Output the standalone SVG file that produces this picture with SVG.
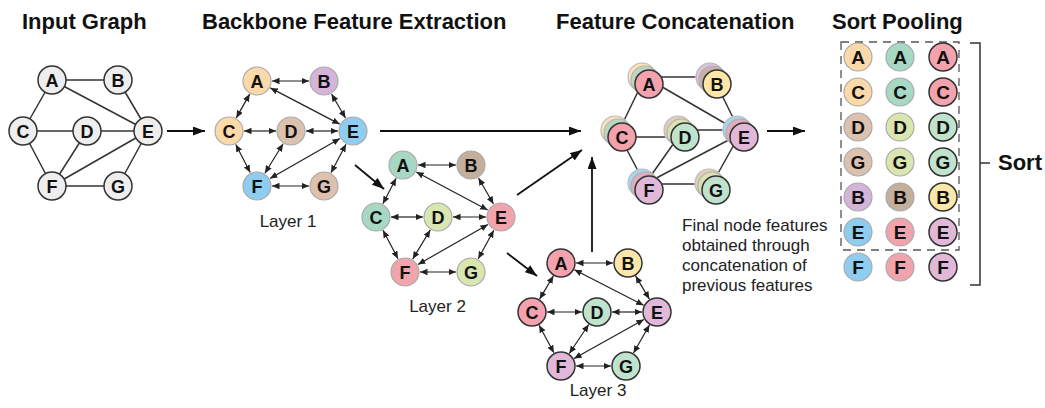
<svg xmlns="http://www.w3.org/2000/svg" width="1045" height="408" viewBox="0 0 1045 408">
<style>
.title{font-family:"Liberation Sans",Arial,sans-serif;font-weight:bold;font-size:22px;fill:#111}
.lbl{font-family:"Liberation Sans",Arial,sans-serif;font-size:17px;fill:#222}
.nl{font-family:"Liberation Sans",Arial,sans-serif;font-weight:bold;font-size:18px;fill:#111;text-anchor:middle}
.nls{font-family:"Liberation Sans",Arial,sans-serif;font-weight:bold;font-size:19px;fill:#111;text-anchor:middle}
.e0{stroke:#333;stroke-width:1.5;fill:none}
.e1{stroke:#222;stroke-width:1.2;fill:none;marker-start:url(#sa);marker-end:url(#sa)}
.big{stroke:#111;stroke-width:1.8;fill:none;marker-end:url(#ba)}
.g0{fill:#eeeeee;stroke:#333;stroke-width:1.5}
.lt{stroke:#aaaaaa;stroke-width:1.2}
.dk{stroke:#333;stroke-width:1.5}
.wh{fill:#ffffff;stroke:none}
.peach{fill:#fcd9a8}.lav{fill:#d4b4d8}.tan{fill:#dcc2ae}.blue{fill:#8fcdf0}
.teal{fill:#a6d8c4}.brn{fill:#c4ae9c}.ygr{fill:#d9e6b0}.pnk{fill:#f2a4ac}
.pk3{fill:#f4a2ae}.yel{fill:#fde7a8}.mnt{fill:#bfe3cc}.lvp{fill:#e2b8d8}
.back{opacity:0.8}
</style>
<defs>
<marker id="sa" markerUnits="userSpaceOnUse" markerWidth="9" markerHeight="8" refX="7.5" refY="3.25" orient="auto-start-reverse"><path d="M0,0 L7.5,3.25 L0,6.5 z" fill="#222"/></marker>
<marker id="ba" markerUnits="userSpaceOnUse" markerWidth="13" markerHeight="10" refX="12" refY="4.5" orient="auto"><path d="M0,0 L12,4.5 L0,9 z" fill="#111"/></marker>
</defs>

<g id="titles">
<text class="title" x="22" y="29">Input Graph</text>
<text class="title" x="202" y="29">Backbone Feature Extraction</text>
<text class="title" x="556" y="29">Feature Concatenation</text>
<text class="title" x="832" y="29">Sort Pooling</text>
</g>

<g id="connectors">
<g id="input-edges">
<line class="e0" x1="52" y1="80" x2="118" y2="80"/>
<line class="e0" x1="52" y1="80" x2="148" y2="131"/>
<line class="e0" x1="118" y1="80" x2="148" y2="131"/>
<line class="e0" x1="52" y1="80" x2="23" y2="131"/>
<line class="e0" x1="23" y1="131" x2="148" y2="131"/>
<line class="e0" x1="23" y1="131" x2="52" y2="186"/>
<line class="e0" x1="87" y1="131" x2="52" y2="186"/>
<line class="e0" x1="52" y1="186" x2="148" y2="131"/>
<line class="e0" x1="52" y1="186" x2="118" y2="186"/>
<line class="e0" x1="118" y1="186" x2="148" y2="131"/>
</g>
<g id="l1-edges">
<line class="e1" x1="272" y1="81" x2="309" y2="81"/>
<line class="e1" x1="270.3" y1="87.9" x2="339.7" y2="124.1"/>
<line class="e1" x1="331.5" y1="94" x2="345.5" y2="118"/>
<line class="e1" x1="249.7" y1="94.1" x2="236.3" y2="117.9"/>
<line class="e1" x1="244" y1="131" x2="276" y2="131"/>
<line class="e1" x1="306" y1="131" x2="338" y2="131"/>
<line class="e1" x1="235.8" y1="144.4" x2="250.2" y2="172.6"/>
<line class="e1" x1="283.1" y1="143.8" x2="264.9" y2="173.2"/>
<line class="e1" x1="270" y1="178.5" x2="340" y2="138.5"/>
<line class="e1" x1="272" y1="186" x2="309" y2="186"/>
<line class="e1" x1="331" y1="172.7" x2="346" y2="144.3"/>
</g>
<g id="l2-edges">
<line class="e1" x1="418" y1="165" x2="456" y2="165"/>
<line class="e1" x1="416.3" y1="172" x2="487.7" y2="210"/>
<line class="e1" x1="478.5" y1="178" x2="493.5" y2="204"/>
<line class="e1" x1="396.1" y1="178.3" x2="382.9" y2="203.7"/>
<line class="e1" x1="391" y1="217" x2="423" y2="217"/>
<line class="e1" x1="453" y1="217" x2="486" y2="217"/>
<line class="e1" x1="383" y1="230.3" x2="398" y2="258.7"/>
<line class="e1" x1="430.3" y1="229.9" x2="412.7" y2="259.1"/>
<line class="e1" x1="418" y1="264.5" x2="488" y2="224.5"/>
<line class="e1" x1="420" y1="272" x2="456" y2="272"/>
<line class="e1" x1="478.2" y1="258.8" x2="493.8" y2="230.2"/>
</g>
<g id="l3-edges">
<line class="e1" x1="576" y1="263" x2="613" y2="263"/>
<line class="e1" x1="574.4" y1="269.8" x2="643.6" y2="305.2"/>
<line class="e1" x1="635.6" y1="275.9" x2="649.4" y2="299.1"/>
<line class="e1" x1="553.4" y1="275.9" x2="539.6" y2="299.1"/>
<line class="e1" x1="547" y1="312" x2="582" y2="312"/>
<line class="e1" x1="612" y1="312" x2="642" y2="312"/>
<line class="e1" x1="539.1" y1="325.2" x2="553.9" y2="352.8"/>
<line class="e1" x1="588.7" y1="324.5" x2="569.3" y2="353.5"/>
<line class="e1" x1="574.1" y1="358.6" x2="643.9" y2="319.4"/>
<line class="e1" x1="576" y1="366" x2="611" y2="366"/>
<line class="e1" x1="633.5" y1="353" x2="649.5" y2="325"/>
</g>
<g id="cc-edges">
<line class="e0" x1="645" y1="77" x2="713" y2="77"/>
<line class="e0" x1="645" y1="77" x2="740" y2="132"/>
<line class="e0" x1="713" y1="77" x2="740" y2="132"/>
<line class="e0" x1="645" y1="77" x2="618" y2="133"/>
<line class="e0" x1="618" y1="137" x2="681" y2="137"/>
<line class="e0" x1="681" y1="130" x2="740" y2="130"/>
<line class="e0" x1="618" y1="133" x2="645" y2="184"/>
<line class="e0" x1="681" y1="133" x2="645" y2="184"/>
<line class="e0" x1="645" y1="184" x2="740" y2="134"/>
<line class="e0" x1="645" y1="184" x2="712" y2="184"/>
<line class="e0" x1="712" y1="184" x2="740" y2="134"/>
</g>
<g id="stage-arrows">
<line class="big" x1="167" y1="131" x2="205" y2="131"/>
<line class="big" x1="380" y1="131" x2="581" y2="131"/>
<line class="big" x1="355" y1="165" x2="384" y2="189"/>
<line class="big" x1="517" y1="195" x2="582" y2="150"/>
<line class="big" x1="507" y1="253" x2="537" y2="276"/>
<line class="big" x1="592" y1="252" x2="592" y2="157"/>
<line class="big" x1="767" y1="131" x2="805" y2="131"/>
</g>
</g>

<g id="input-graph">
<g id="in-A"><circle class="g0" cx="52" cy="80" r="14"/><text class="nl" x="52" y="86.5">A</text></g>
<g id="in-B"><circle class="g0" cx="118" cy="80" r="14"/><text class="nl" x="118" y="86.5">B</text></g>
<g id="in-C"><circle class="g0" cx="23" cy="131" r="14"/><text class="nl" x="23" y="137.5">C</text></g>
<g id="in-D"><circle class="g0" cx="87" cy="131" r="14"/><text class="nl" x="87" y="137.5">D</text></g>
<g id="in-E"><circle class="g0" cx="148" cy="131" r="14"/><text class="nl" x="148" y="137.5">E</text></g>
<g id="in-F"><circle class="g0" cx="52" cy="186" r="14"/><text class="nl" x="52" y="192.5">F</text></g>
<g id="in-G"><circle class="g0" cx="118" cy="186" r="14"/><text class="nl" x="118" y="192.5">G</text></g>
</g>

<g id="layer1">
<g id="l1-A"><circle class="peach lt" cx="257" cy="81" r="14"/><text class="nl" x="257" y="87.5">A</text></g>
<g id="l1-B"><circle class="lav lt" cx="324" cy="81" r="14"/><text class="nl" x="324" y="87.5">B</text></g>
<g id="l1-C"><circle class="peach lt" cx="229" cy="131" r="14"/><text class="nl" x="229" y="137.5">C</text></g>
<g id="l1-D"><circle class="tan lt" cx="291" cy="131" r="14"/><text class="nl" x="291" y="137.5">D</text></g>
<g id="l1-E"><circle class="blue lt" cx="353" cy="131" r="14"/><text class="nl" x="353" y="137.5">E</text></g>
<g id="l1-F"><circle class="blue lt" cx="257" cy="186" r="14"/><text class="nl" x="257" y="192.5">F</text></g>
<g id="l1-G"><circle class="tan lt" cx="324" cy="186" r="14"/><text class="nl" x="324" y="192.5">G</text></g>
<text class="lbl" x="288" y="227" text-anchor="middle">Layer 1</text>
</g>

<g id="layer2">
<g id="l2-A"><circle class="teal lt" cx="403" cy="165" r="14"/><text class="nl" x="403" y="171.5">A</text></g>
<g id="l2-B"><circle class="brn lt" cx="471" cy="165" r="14"/><text class="nl" x="471" y="171.5">B</text></g>
<g id="l2-C"><circle class="teal lt" cx="376" cy="217" r="14"/><text class="nl" x="376" y="223.5">C</text></g>
<g id="l2-D"><circle class="ygr lt" cx="438" cy="217" r="14"/><text class="nl" x="438" y="223.5">D</text></g>
<g id="l2-E"><circle class="pnk lt" cx="501" cy="217" r="14"/><text class="nl" x="501" y="223.5">E</text></g>
<g id="l2-F"><circle class="pnk lt" cx="405" cy="272" r="14"/><text class="nl" x="405" y="278.5">F</text></g>
<g id="l2-G"><circle class="ygr lt" cx="471" cy="272" r="14"/><text class="nl" x="471" y="278.5">G</text></g>
<text class="lbl" x="437.5" y="312" text-anchor="middle">Layer 2</text>
</g>

<g id="layer3">
<g id="l3-A"><circle class="pk3 dk" cx="561" cy="263" r="14"/><text class="nl" x="561" y="269.5">A</text></g>
<g id="l3-B"><circle class="yel dk" cx="628" cy="263" r="14"/><text class="nl" x="628" y="269.5">B</text></g>
<g id="l3-C"><circle class="pk3 dk" cx="532" cy="312" r="14"/><text class="nl" x="532" y="318.5">C</text></g>
<g id="l3-D"><circle class="mnt dk" cx="597" cy="312" r="14"/><text class="nl" x="597" y="318.5">D</text></g>
<g id="l3-E"><circle class="lvp dk" cx="657" cy="312" r="14"/><text class="nl" x="657" y="318.5">E</text></g>
<g id="l3-F"><circle class="lvp dk" cx="561" cy="366" r="14"/><text class="nl" x="561" y="372.5">F</text></g>
<g id="l3-G"><circle class="mnt dk" cx="626" cy="366" r="14"/><text class="nl" x="626" y="372.5">G</text></g>
<text class="lbl" x="598" y="396" text-anchor="middle">Layer 3</text>
</g>

<g id="concat">
<g id="cc-under">
<circle class="wh" cx="642" cy="77" r="14.6"/>
<circle class="wh" cx="710" cy="77" r="14.6"/>
<circle class="wh" cx="615" cy="130" r="14.6"/>
<circle class="wh" cx="678" cy="130" r="14.6"/>
<circle class="wh" cx="737" cy="130" r="14.6"/>
<circle class="wh" cx="642" cy="183" r="14.6"/>
<circle class="wh" cx="709" cy="183" r="14.6"/>
<circle class="wh" cx="645" cy="80" r="14.6"/>
<circle class="wh" cx="713" cy="80" r="14.6"/>
<circle class="wh" cx="618" cy="133" r="14.6"/>
<circle class="wh" cx="681" cy="133" r="14.6"/>
<circle class="wh" cx="740" cy="133" r="14.6"/>
<circle class="wh" cx="645" cy="186" r="14.6"/>
<circle class="wh" cx="712" cy="186" r="14.6"/>
</g>
<g id="cc-back1" class="back">
<circle class="peach lt" cx="642" cy="77" r="14"/>
<circle class="lav lt" cx="710" cy="77" r="14"/>
<circle class="peach lt" cx="615" cy="130" r="14"/>
<circle class="tan lt" cx="678" cy="130" r="14"/>
<circle class="blue lt" cx="737" cy="130" r="14"/>
<circle class="blue lt" cx="642" cy="183" r="14"/>
<circle class="tan lt" cx="709" cy="183" r="14"/>
</g>
<g id="cc-back2" class="back">
<circle class="teal lt" cx="645" cy="80" r="14"/>
<circle class="brn lt" cx="713" cy="80" r="14"/>
<circle class="teal lt" cx="618" cy="133" r="14"/>
<circle class="ygr lt" cx="681" cy="133" r="14"/>
<circle class="pnk lt" cx="740" cy="133" r="14"/>
<circle class="pnk lt" cx="645" cy="186" r="14"/>
<circle class="ygr lt" cx="712" cy="186" r="14"/>
</g>
<g id="cc-A"><circle class="pk3 dk" cx="649" cy="84" r="14"/><text class="nl" x="649" y="90.5">A</text></g>
<g id="cc-B"><circle class="yel dk" cx="717" cy="84" r="14"/><text class="nl" x="717" y="90.5">B</text></g>
<g id="cc-C"><circle class="pk3 dk" cx="622" cy="137" r="14"/><text class="nl" x="622" y="143.5">C</text></g>
<g id="cc-D"><circle class="mnt dk" cx="685" cy="137" r="14"/><text class="nl" x="685" y="143.5">D</text></g>
<g id="cc-E"><circle class="lvp dk" cx="744" cy="137" r="14"/><text class="nl" x="744" y="143.5">E</text></g>
<g id="cc-F"><circle class="lvp dk" cx="649" cy="190" r="14"/><text class="nl" x="649" y="196.5">F</text></g>
<g id="cc-G"><circle class="mnt dk" cx="716" cy="190" r="14"/><text class="nl" x="716" y="196.5">G</text></g>
<g id="caption" class="lbl">
<text x="682" y="231">Final node features</text>
<text x="682" y="251">obtained through</text>
<text x="682" y="271">concatenation of</text>
<text x="682" y="291">previous features</text>
</g>
</g>

<g id="sort-pooling">
<rect x="841" y="42" width="118" height="208" fill="none" stroke="#555" stroke-width="1.3" stroke-dasharray="8 6"/>
<g id="sp-col1">
<g><circle class="peach lt" cx="858" cy="57" r="14"/><text class="nls" x="858" y="64">A</text></g>
<g><circle class="peach lt" cx="858" cy="92" r="14"/><text class="nls" x="858" y="99">C</text></g>
<g><circle class="tan lt" cx="858" cy="127" r="14"/><text class="nls" x="858" y="134">D</text></g>
<g><circle class="tan lt" cx="858" cy="162" r="14"/><text class="nls" x="858" y="169">G</text></g>
<g><circle class="lav lt" cx="858" cy="197" r="14"/><text class="nls" x="858" y="204">B</text></g>
<g><circle class="blue lt" cx="858" cy="232" r="14"/><text class="nls" x="858" y="239">E</text></g>
<g><circle class="blue lt" cx="858" cy="267" r="14"/><text class="nls" x="858" y="274">F</text></g>
</g>
<g id="sp-col2">
<g><circle class="teal lt" cx="900" cy="57" r="14"/><text class="nls" x="900" y="64">A</text></g>
<g><circle class="teal lt" cx="900" cy="92" r="14"/><text class="nls" x="900" y="99">C</text></g>
<g><circle class="ygr lt" cx="900" cy="127" r="14"/><text class="nls" x="900" y="134">D</text></g>
<g><circle class="ygr lt" cx="900" cy="162" r="14"/><text class="nls" x="900" y="169">G</text></g>
<g><circle class="brn lt" cx="900" cy="197" r="14"/><text class="nls" x="900" y="204">B</text></g>
<g><circle class="pnk lt" cx="900" cy="232" r="14"/><text class="nls" x="900" y="239">E</text></g>
<g><circle class="pnk lt" cx="900" cy="267" r="14"/><text class="nls" x="900" y="274">F</text></g>
</g>
<g id="sp-col3">
<g><circle class="pk3 dk" cx="943" cy="57" r="14"/><text class="nls" x="943" y="64">A</text></g>
<g><circle class="pk3 dk" cx="943" cy="92" r="14"/><text class="nls" x="943" y="99">C</text></g>
<g><circle class="mnt dk" cx="943" cy="127" r="14"/><text class="nls" x="943" y="134">D</text></g>
<g><circle class="mnt dk" cx="943" cy="162" r="14"/><text class="nls" x="943" y="169">G</text></g>
<g><circle class="yel dk" cx="943" cy="197" r="14"/><text class="nls" x="943" y="204">B</text></g>
<g><circle class="lvp dk" cx="943" cy="232" r="14"/><text class="nls" x="943" y="239">E</text></g>
<g><circle class="lvp dk" cx="943" cy="267" r="14"/><text class="nls" x="943" y="274">F</text></g>
</g>
<path d="M970,43 H980 V285 H970 M980,163 H990" fill="none" stroke="#333" stroke-width="1.5"/>
<text class="title" x="998" y="170">Sort</text>
</g>
</svg>
